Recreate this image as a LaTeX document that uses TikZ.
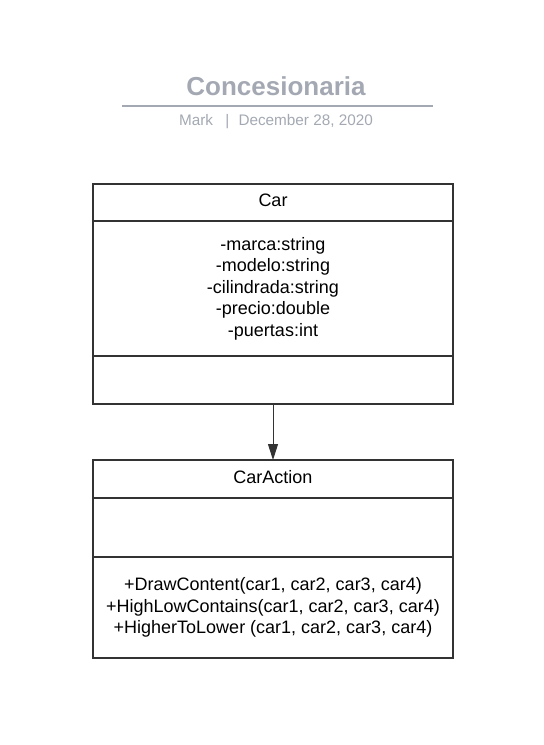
\documentclass[tikz,border=0pt]{standalone}
\usepackage{fontspec}
\setmainfont{Liberation Sans}
\usepackage{tikz}
\usetikzlibrary{positioning}
\usetikzlibrary{arrows.meta}
\definecolor{titlegray}{RGB}{163,168,178}
\definecolor{boxline}{RGB}{51,51,51}
\tikzset{
    compart/.style={draw=boxline, line width=1.5pt, minimum width=360pt, outer sep=0pt, inner sep=0pt, align=center, font=\fontsize{18}{21.5}\selectfont},
    head/.style={compart, text depth=4pt},
}

\begin{document}
\begin{tikzpicture}[x=1pt,y=-1pt]
\useasboundingbox (0,0) rectangle (544,745);

\node[text=titlegray, font=\fontsize{26}{30}\selectfont\bfseries] (title) at (276,86) {Concesionaria};
\coordinate (ruleL) at (122,106);
\coordinate (ruleR) at (433,106);
\draw[titlegray, line width=2pt] (ruleL) -- (ruleR);
\node[text=titlegray, font=\fontsize{15.3}{18}\selectfont] (sub) at (276,122) {Mark\hspace{0.8em}|\hspace{0.6em}December 28, 2020};

% Car
\node[head, minimum height=37pt, anchor=north] (car) at (273,184) {Car};
\node[compart, minimum height=135pt, below=0pt of car] (carAttr) {-marca:string\\-modelo:string\\-cilindrada:string\\-precio:double\\-puertas:int};
\node[compart, minimum height=48pt, below=0pt of carAttr] (carOps) {};

% CarAction
\node[head, minimum height=38pt, anchor=north] (act) at (273,460) {CarAction};
\node[compart, minimum height=59pt, below=0pt of act] (actAttr) {};
\node[compart, minimum height=101pt, below=0pt of actAttr] (actOps) {+DrawContent(car1, car2, car3, car4)\\+HighLowContains(car1, car2, car3, car4)\\+HigherToLower (car1, car2, car3, car4)};

\draw[boxline, line width=1pt, -{Triangle[width=10pt,length=16pt]}] (carOps) -- (act);
\end{tikzpicture}
\end{document}
